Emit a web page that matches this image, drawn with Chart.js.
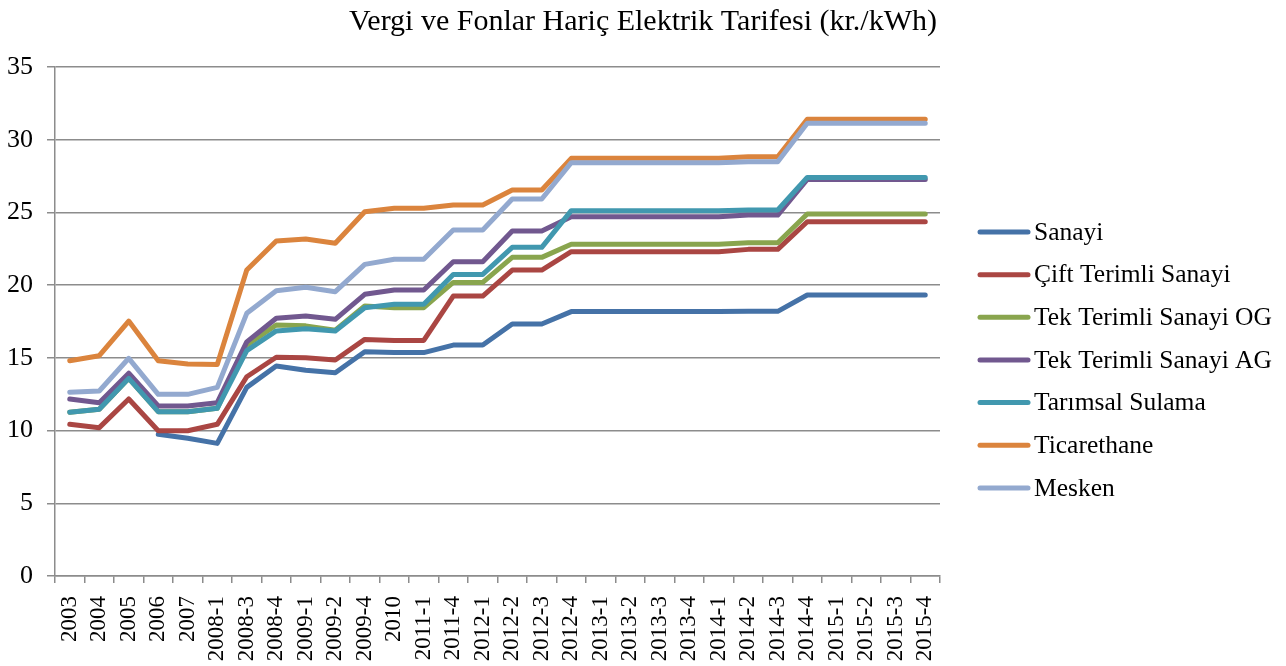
<!DOCTYPE html>
<html>
<head>
<meta charset="utf-8">
<script src="https://cdn.jsdelivr.net/npm/chart.js@4"></script>
<style>
  html, body { margin: 0; padding: 0; background: #fff; }
  #wrap { width: 1286px; height: 666px; }
</style>
</head>
<body>
<div id="wrap"><canvas id="tarifeChart"></canvas></div>
<script>
const donemler = ['2003', '2004', '2005', '2006', '2007', '2008-1', '2008-3', '2008-4', '2009-1', '2009-2',
    '2009-4', '2010', '2011-1', '2011-4', '2012-1', '2012-2', '2012-3', '2012-4', '2013-1', '2013-2',
    '2013-3', '2013-4', '2014-1', '2014-2', '2014-3', '2014-4', '2015-1', '2015-2', '2015-3', '2015-4'];

const sanayi = [null, null, null, 9.74, 9.47, 9.12, 12.97, 14.44, 14.15, 13.98,
    15.42, 15.36, 15.36, 15.88, 15.88, 17.33, 17.33, 18.18, 18.18, 18.18,
    18.18, 18.18, 18.18, 18.2, 18.2, 19.32, 19.32, 19.32, 19.32, 19.32];
const ciftTerimli = [10.43, 10.2, 12.17, 9.99, 9.99, 10.43, 13.7, 15.04, 15.0, 14.85,
    16.27, 16.2, 16.2, 19.25, 19.25, 21.04, 21.04, 22.3, 22.3, 22.3,
    22.3, 22.3, 22.3, 22.46, 22.46, 24.36, 24.36, 24.36, 24.36, 24.36];
const tekTerimliOG = [11.26, 11.46, 13.59, 11.3, 11.3, 11.53, 15.88, 17.26, 17.2, 16.9,
    18.57, 18.45, 18.45, 20.19, 20.19, 21.91, 21.91, 22.81, 22.81, 22.81,
    22.81, 22.81, 22.81, 22.92, 22.92, 24.89, 24.89, 24.89, 24.89, 24.89];
const tekTerimliAG = [12.17, 11.92, 13.94, 11.69, 11.69, 11.92, 16.1, 17.72, 17.88, 17.65,
    19.37, 19.67, 19.67, 21.61, 21.61, 23.72, 23.72, 24.71, 24.71, 24.71,
    24.71, 24.71, 24.71, 24.82, 24.82, 27.27, 27.27, 27.27, 27.27, 27.27];
const tarimsalSulama = [11.26, 11.46, 13.59, 11.3, 11.3, 11.53, 15.5, 16.85, 17.0, 16.85,
    18.45, 18.68, 18.68, 20.74, 20.74, 22.6, 22.6, 25.12, 25.12, 25.12,
    25.12, 25.12, 25.12, 25.17, 25.17, 27.41, 27.41, 27.41, 27.41, 27.41];
const ticarethane = [14.8, 15.15, 17.53, 14.8, 14.58, 14.55, 21.04, 23.03, 23.17, 22.88,
    25.05, 25.28, 25.28, 25.51, 25.51, 26.54, 26.54, 28.72, 28.72, 28.72,
    28.72, 28.72, 28.72, 28.83, 28.83, 31.4, 31.4, 31.4, 31.4, 31.4];
const mesken = [12.63, 12.72, 14.97, 12.49, 12.49, 12.97, 18.06, 19.62, 19.85, 19.55,
    21.43, 21.78, 21.78, 23.79, 23.79, 25.92, 25.92, 28.42, 28.42, 28.42,
    28.42, 28.42, 28.42, 28.49, 28.49, 31.13, 31.13, 31.13, 31.13, 31.13];

const seriler = [
    { label: 'Sanayi', data: sanayi, color: '#4572A7' },
    { label: 'Çift Terimli Sanayi', data: ciftTerimli, color: '#AA4643' },
    { label: 'Tek Terimli Sanayi OG', data: tekTerimliOG, color: '#89A54E' },
    { label: 'Tek Terimli Sanayi AG', data: tekTerimliAG, color: '#71588F' },
    { label: 'Tarımsal Sulama', data: tarimsalSulama, color: '#4198AF' },
    { label: 'Ticarethane', data: ticarethane, color: '#DB843D' },
    { label: 'Mesken', data: mesken, color: '#93A9CF' }
];

const serif = "'Liberation Serif', 'Times New Roman', serif";
const gridRenk = '#8c8c8c';

// açıklama kutusu: sağdaki boşluğa çizgi + etiket
const aciklamaEklentisi = {
    id: 'aciklama',
    afterDraw(chart) {
        const ctx = chart.ctx;
        const x0 = chart.chartArea.right + 40;
        let y = 232;
        ctx.save();
        ctx.font = `25.5px ${serif}`;
        ctx.textBaseline = 'alphabetic';
        ctx.textAlign = 'left';
        chart.data.datasets.forEach((ds) => {
            ctx.strokeStyle = ds.borderColor;
            ctx.lineWidth = 5;
            ctx.lineCap = 'round';
            ctx.beginPath();
            ctx.moveTo(x0, y);
            ctx.lineTo(x0 + 48, y);
            ctx.stroke();
            ctx.fillStyle = '#000';
            ctx.fillText(ds.label, x0 + 54, y + 7.6);
            y += 42.65;
        });
        ctx.restore();
    }
};

new Chart(document.getElementById('tarifeChart').getContext('2d'), {
    type: 'line',
    data: {
        labels: donemler,
        // sonraki seri üstte çizilsin
        datasets: seriler.map((s, i) => ({
            label: s.label,
            data: s.data,
            borderColor: s.color,
            backgroundColor: s.color,
            borderWidth: 5,
            borderCapStyle: 'round',
            borderJoinStyle: 'round',
            pointRadius: 0,
            tension: 0,
            order: seriler.length - i,
            yAxisID: 'y'
        }))
    },
    options: {
        responsive: true,
        maintainAspectRatio: false,
        animation: false,
        layout: { padding: 0 },
        plugins: {
            title: {
                display: true,
                text: 'Vergi ve Fonlar Hariç Elektrik Tarifesi (kr./kWh)',
                color: '#000',
                font: { family: serif, size: 30, weight: 'normal' },
                padding: { top: 4, bottom: 27 }
            },
            legend: { display: false },
            tooltip: { enabled: false }
        },
        scales: {
            x: {
                offset: true,
                grid: { offset: true, drawOnChartArea: false, drawTicks: true, tickLength: 7, color: gridRenk, lineWidth: 1.5 },
                border: { color: gridRenk, width: 1.5 },
                ticks: {
                    color: '#000',
                    font: { family: serif, size: 23 },
                    minRotation: 90,
                    maxRotation: 90,
                    autoSkip: false,
                    padding: 13
                },
                afterFit: (scale) => { scale.height = 90; }
            },
            y: {
                min: 0,
                max: 35,
                grid: { color: gridRenk, lineWidth: 1.5, tickLength: 8 },
                border: { color: gridRenk, width: 1.5 },
                ticks: {
                    stepSize: 5,
                    color: '#000',
                    font: { family: serif, size: 26 },
                    padding: 14
                },
                afterFit: (scale) => { scale.width = 55; }
            },
            // açıklama için sağda yer ayırır
            bosluk: {
                type: 'linear',
                position: 'right',
                grid: { display: false },
                border: { display: false },
                ticks: { display: false },
                afterFit: (scale) => { scale.width = 346; }
            }
        }
    },
    plugins: [aciklamaEklentisi]
});
</script>
</body>
</html>
